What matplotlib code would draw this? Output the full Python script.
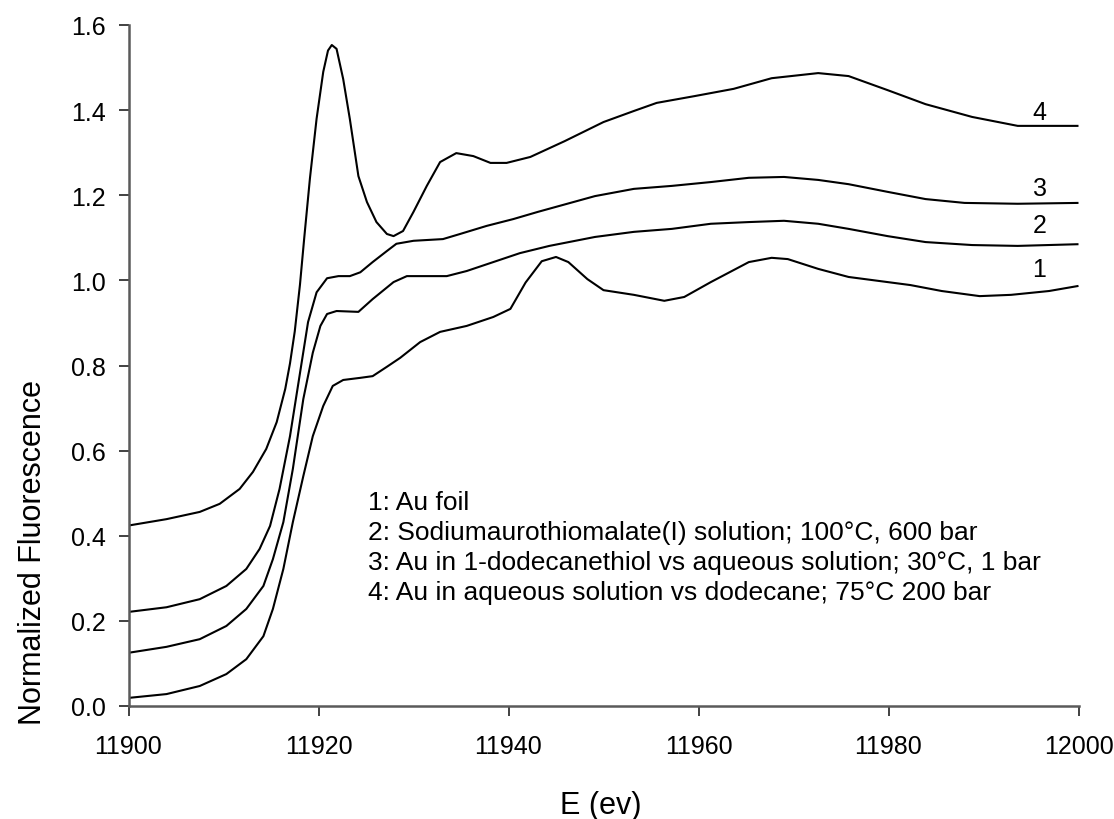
import matplotlib
matplotlib.use("Agg")
import matplotlib.pyplot as plt

plt.rcParams['font.family'] = ['Liberation Sans', 'DejaVu Sans']

# Curve 1: Au foil
e1 = [11900, 11904, 11907.5, 11910.3, 11912.4, 11914.2, 11915.2, 11916.3, 11917.3, 11918.4,
      11919.4, 11920.5, 11921.5, 11922.6, 11924.4, 11925.7, 11927.2, 11928.6, 11930.7, 11932.8,
      11935.6, 11938.4, 11940.2, 11941.8, 11943.5, 11945.0, 11946.3, 11948.3, 11950.0, 11953.2,
      11956.4, 11958.5, 11961.3, 11965.3, 11967.7, 11969.4, 11972.6, 11975.8, 11979.9, 11982.3,
      11985.6, 11989.6, 11992.9, 11996.9, 12000]
v1 = [0.019, 0.028, 0.047, 0.075, 0.110, 0.164, 0.228, 0.322, 0.432, 0.540,
      0.634, 0.705, 0.752, 0.766, 0.771, 0.775, 0.797, 0.818, 0.855, 0.879,
      0.893, 0.914, 0.933, 0.995, 1.045, 1.055, 1.043, 1.003, 0.977, 0.966,
      0.952, 0.961, 0.996, 1.043, 1.053, 1.050, 1.027, 1.008, 0.996, 0.989,
      0.975, 0.963, 0.966, 0.975, 0.987]

# Curve 2: Sodiumaurothiomalate(I) solution
e2 = [11900, 11904, 11907.5, 11910.3, 11912.4, 11914.2, 11915.2, 11916.3, 11917.3, 11918.4,
      11919.4, 11920.2, 11920.9, 11921.9, 11924.2, 11925.7, 11927.9, 11929.3, 11933.5, 11935.6,
      11938.4, 11941.2, 11944.3, 11949.1, 11953.2, 11957.2, 11961.3, 11965.3, 11969.0, 11972.6,
      11975.8, 11979.9, 11983.9, 11988.8, 11993.6, 12000]
v2 = [0.125, 0.139, 0.157, 0.188, 0.228, 0.282, 0.345, 0.432, 0.557, 0.721,
      0.830, 0.893, 0.921, 0.928, 0.926, 0.956, 0.996, 1.010, 1.010, 1.022,
      1.043, 1.064, 1.081, 1.102, 1.114, 1.121, 1.133, 1.137, 1.140, 1.133,
      1.121, 1.104, 1.090, 1.083, 1.081, 1.085]

# Curve 3: Au in 1-dodecanethiol vs aqueous solution
e3 = [11900, 11904, 11907.5, 11910.3, 11912.4, 11913.8, 11914.9, 11915.9, 11917.0, 11918.0,
      11918.9, 11919.8, 11920.9, 11922.1, 11923.3, 11924.4, 11925.7, 11927.2, 11928.2, 11930.0,
      11933.1, 11934.9, 11937.7, 11940.5, 11943.1, 11949.1, 11953.2, 11957.2, 11961.3, 11965.3,
      11969.0, 11972.6, 11975.8, 11979.9, 11983.9, 11988.0, 11993.6, 12000]
v3 = [0.221, 0.232, 0.251, 0.282, 0.322, 0.369, 0.423, 0.510, 0.634, 0.775,
      0.902, 0.972, 1.005, 1.010, 1.010, 1.019, 1.043, 1.069, 1.086, 1.093,
      1.097, 1.109, 1.128, 1.144, 1.161, 1.198, 1.215, 1.222, 1.231, 1.241,
      1.243, 1.236, 1.226, 1.208, 1.191, 1.182, 1.180, 1.182]

# Curve 4: Au in aqueous solution vs dodecane
e4 = [11900, 11904, 11907.5, 11909.6, 11911.7, 11913.1, 11914.5, 11915.6, 11916.5, 11917.0,
      11917.5, 11918.05, 11918.5, 11919.1, 11919.8, 11920.5, 11921.0, 11921.4, 11921.9, 11922.6,
      11923.3, 11924.2, 11925.1, 11926.1, 11927.2, 11927.9, 11928.9, 11930.0, 11931.4, 11932.8,
      11934.5, 11936.3, 11938.1, 11939.8, 11942.3, 11945.9, 11950.0, 11953.2, 11955.6, 11959.6,
      11963.7, 11967.7, 11972.6, 11975.8, 11979.9, 11983.9, 11988.8, 11993.6, 12000]
v4 = [0.424, 0.439, 0.456, 0.475, 0.510, 0.550, 0.604, 0.667, 0.745, 0.805,
      0.880, 0.990, 1.100, 1.240, 1.380, 1.490, 1.540, 1.553, 1.544, 1.473,
      1.379, 1.245, 1.184, 1.137, 1.109, 1.104, 1.116, 1.161, 1.222, 1.278,
      1.299, 1.292, 1.276, 1.276, 1.290, 1.327, 1.372, 1.398, 1.417, 1.433,
      1.450, 1.475, 1.487, 1.480, 1.447, 1.414, 1.384, 1.363, 1.363]

curve_labels = ["1", "2", "3", "4"]
label_y = [1.027, 1.129, 1.217, 1.396]
legend_lines = [
    "1: Au foil",
    "2: Sodiumaurothiomalate(I) solution; 100\u00b0C, 600 bar",
    "3: Au in 1-dodecanethiol vs aqueous solution; 30\u00b0C, 1 bar",
    "4: Au in aqueous solution vs dodecane; 75\u00b0C 200 bar",
]
legend_y = [0.479, 0.409, 0.338, 0.268]
xticks = [11900, 11920, 11940, 11960, 11980, 12000]
yticks = [0.0, 0.2, 0.4, 0.6, 0.8, 1.0, 1.2, 1.4, 1.6]

W, H = 1114, 820
fig = plt.figure(figsize=(W / 100, H / 100), dpi=100)
ax = fig.add_axes([128.5 / W, 1 - 707 / H, 950 / W, 681 / H])

for e, v in [(e1, v1), (e2, v2), (e3, v3), (e4, v4)]:
    ax.plot(e, v, color='black', lw=1.5, solid_joinstyle='round', solid_capstyle='butt')

for lab, y in zip(curve_labels, label_y):
    ax.text(11995.9, y, lab, fontsize=18, ha='center', va='center', color='black')

for line, y in zip(legend_lines, legend_y):
    ax.text(11925.2, y, line, fontsize=19, ha='left', va='center', color='black')

ax.set_xlim(11900, 12000)
ax.set_ylim(0.0, 1.6)
ax.set_xticks(xticks)
ax.set_xticklabels([str(t) for t in xticks])
ax.set_yticks(yticks)
ax.set_yticklabels([f"{t:.1f}" for t in yticks])

for s in ['top', 'right']:
    ax.spines[s].set_visible(False)
for s in ['left', 'bottom']:
    ax.spines[s].set_color('#5a5a5a')
    ax.spines[s].set_linewidth(1.8)

ax.tick_params(axis='both', direction='out', length=7.5, width=1.3, color='#333333')
ax.tick_params(axis='y', labelsize=18, pad=9)
ax.tick_params(axis='x', labelsize=18, pad=13)

fig.text(601 / W, 1 - 814 / H, "E (ev)", fontsize=22, ha='center', va='baseline')
fig.text(33 / W, 1 - 380 / H, "Normalized Fluorescence", fontsize=22, rotation=90,
         ha='right', va='center', rotation_mode='anchor')

fig.savefig("out.png", dpi=100)
